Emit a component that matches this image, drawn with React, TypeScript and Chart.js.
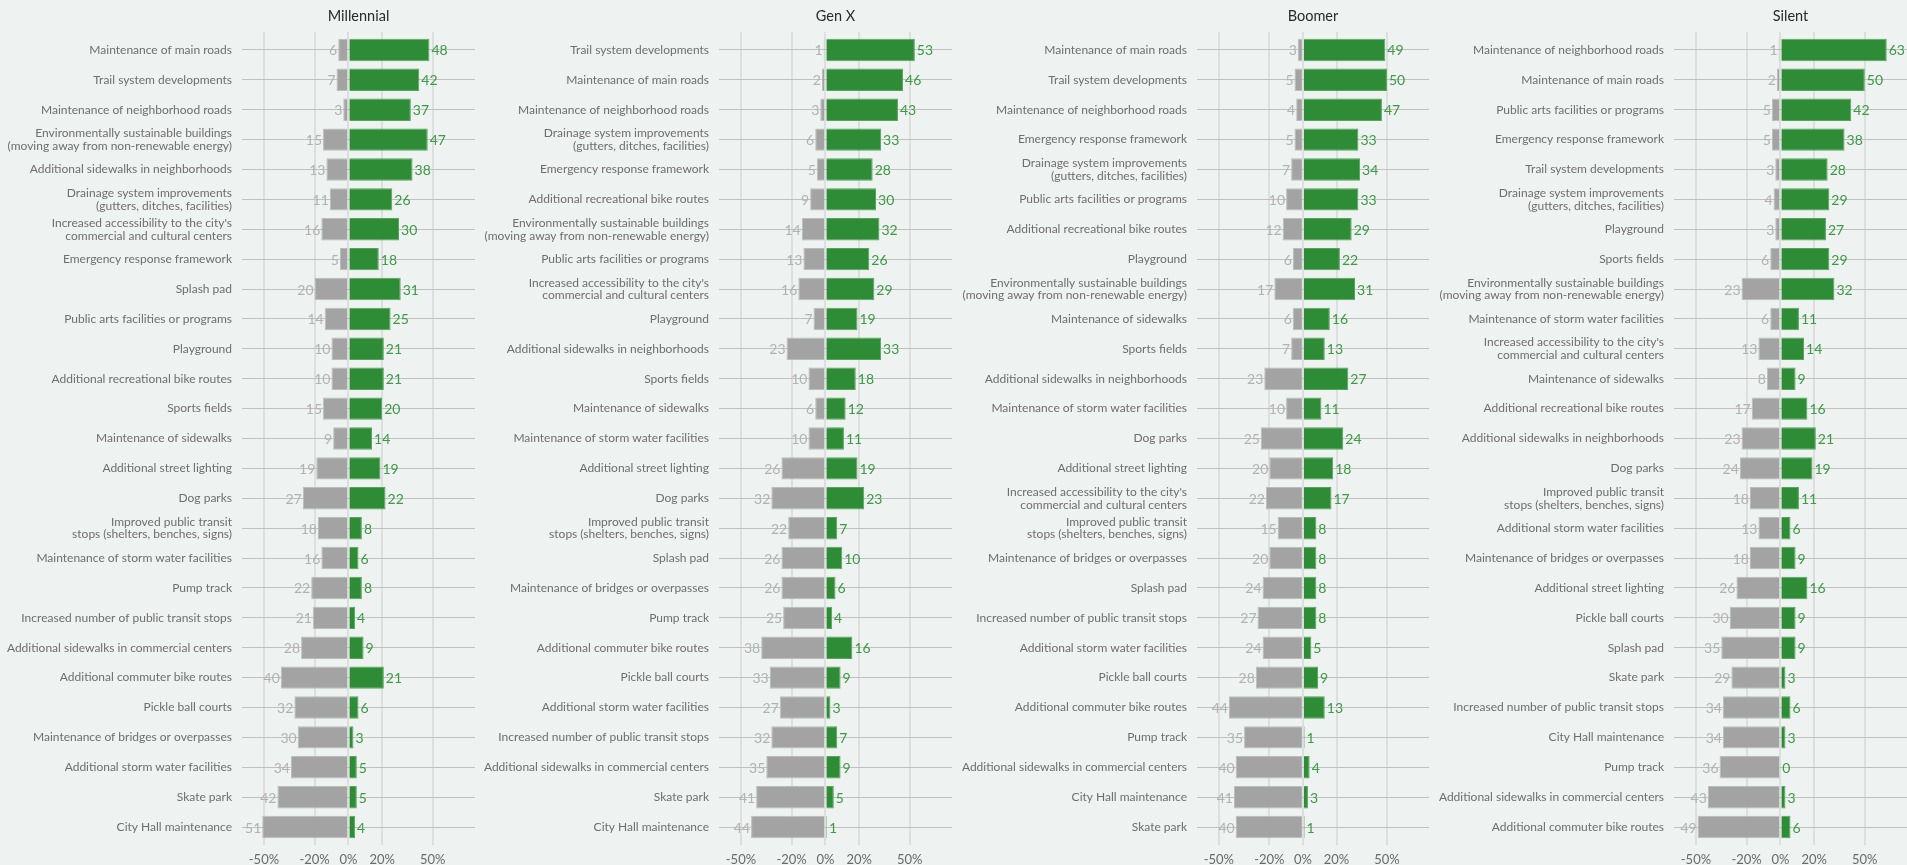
import React, { useEffect, useRef } from "react";
import { Chart, registerables } from "chart.js";

Chart.register(...registerables);

// ---------- DATA ----------
const ENV = "Environmentally sustainable buildings\n(moving away from non-renewable energy)";
const DRAIN = "Drainage system improvements\n(gutters, ditches, facilities)";
const ACCESS = "Increased accessibility to the city's\ncommercial and cultural centers";
const TRANSIT = "Improved public transit\nstops (shelters, benches, signs)";

const millennialCategories = [
  "Maintenance of main roads", "Trail system developments", "Maintenance of neighborhood roads", ENV,
  "Additional sidewalks in neighborhoods", DRAIN, ACCESS, "Emergency response framework", "Splash pad",
  "Public arts facilities or programs", "Playground", "Additional recreational bike routes", "Sports fields",
  "Maintenance of sidewalks", "Additional street lighting", "Dog parks", TRANSIT,
  "Maintenance of storm water facilities", "Pump track", "Increased number of public transit stops",
  "Additional sidewalks in commercial centers", "Additional commuter bike routes", "Pickle ball courts",
  "Maintenance of bridges or overpasses", "Additional storm water facilities", "Skate park", "City Hall maintenance",
];
const millennialOppose = [6, 7, 3, 15, 13, 11, 16, 5, 20, 14, 10, 10, 15, 9, 19, 27, 18, 16, 22, 21, 28, 40, 32, 30, 34, 42, 51];
const millennialSupport = [48, 42, 37, 47, 38, 26, 30, 18, 31, 25, 21, 21, 20, 14, 19, 22, 8, 6, 8, 4, 9, 21, 6, 3, 5, 5, 4];

const genXCategories = [
  "Trail system developments", "Maintenance of main roads", "Maintenance of neighborhood roads", DRAIN,
  "Emergency response framework", "Additional recreational bike routes", ENV, "Public arts facilities or programs",
  ACCESS, "Playground", "Additional sidewalks in neighborhoods", "Sports fields", "Maintenance of sidewalks",
  "Maintenance of storm water facilities", "Additional street lighting", "Dog parks", TRANSIT, "Splash pad",
  "Maintenance of bridges or overpasses", "Pump track", "Additional commuter bike routes", "Pickle ball courts",
  "Additional storm water facilities", "Increased number of public transit stops",
  "Additional sidewalks in commercial centers", "Skate park", "City Hall maintenance",
];
const genXOppose = [1, 2, 3, 6, 5, 9, 14, 13, 16, 7, 23, 10, 6, 10, 26, 32, 22, 26, 26, 25, 38, 33, 27, 32, 35, 41, 44];
const genXSupport = [53, 46, 43, 33, 28, 30, 32, 26, 29, 19, 33, 18, 12, 11, 19, 23, 7, 10, 6, 4, 16, 9, 3, 7, 9, 5, 1];

const boomerCategories = [
  "Maintenance of main roads", "Trail system developments", "Maintenance of neighborhood roads",
  "Emergency response framework", DRAIN, "Public arts facilities or programs", "Additional recreational bike routes",
  "Playground", ENV, "Maintenance of sidewalks", "Sports fields", "Additional sidewalks in neighborhoods",
  "Maintenance of storm water facilities", "Dog parks", "Additional street lighting", ACCESS, TRANSIT,
  "Maintenance of bridges or overpasses", "Splash pad", "Increased number of public transit stops",
  "Additional storm water facilities", "Pickle ball courts", "Additional commuter bike routes", "Pump track",
  "Additional sidewalks in commercial centers", "City Hall maintenance", "Skate park",
];
const boomerOppose = [3, 5, 4, 5, 7, 10, 12, 6, 17, 6, 7, 23, 10, 25, 20, 22, 15, 20, 24, 27, 24, 28, 44, 35, 40, 41, 40];
const boomerSupport = [49, 50, 47, 33, 34, 33, 29, 22, 31, 16, 13, 27, 11, 24, 18, 17, 8, 8, 8, 8, 5, 9, 13, 1, 4, 3, 1];

const silentCategories = [
  "Maintenance of neighborhood roads", "Maintenance of main roads", "Public arts facilities or programs",
  "Emergency response framework", "Trail system developments", DRAIN, "Playground", "Sports fields", ENV,
  "Maintenance of storm water facilities", ACCESS, "Maintenance of sidewalks", "Additional recreational bike routes",
  "Additional sidewalks in neighborhoods", "Dog parks", TRANSIT, "Additional storm water facilities",
  "Maintenance of bridges or overpasses", "Additional street lighting", "Pickle ball courts", "Splash pad",
  "Skate park", "Increased number of public transit stops", "City Hall maintenance", "Pump track",
  "Additional sidewalks in commercial centers", "Additional commuter bike routes",
];
const silentOppose = [1, 2, 5, 5, 3, 4, 3, 6, 23, 6, 13, 8, 17, 23, 24, 18, 13, 18, 26, 30, 35, 29, 34, 34, 36, 43, 49];
const silentSupport = [63, 50, 42, 38, 28, 29, 27, 29, 32, 11, 14, 9, 16, 21, 19, 11, 6, 9, 16, 9, 9, 3, 6, 3, 0, 3, 6];

const panelTitles = ["Millennial", "Gen X", "Boomer", "Silent"];
const xTickValues = [-50, -20, 0, 20, 50];

// ---------- STYLE ----------
const BG = "#eef2f0";
const GREEN = "#2e8b36";
const GREEN_BORDER = "#55a55b";
const GREY = "#a3a3a3";
const GREY_BORDER = "#bcbcbc";
const GREEN_TEXT = "#3d9a45";
const GREY_TEXT = "#b2b2b2";
const FONT = "Lato, 'Open Sans', sans-serif";

type PanelProps = {
  title: string;
  categories: string[];
  oppose: number[];
  support: number[];
  width: number;
  yAxisWidth: number;
  rightPad: number;
};

function Panel({ title, categories, oppose, support, width, yAxisWidth, rightPad }: PanelProps) {
  const ref = useRef<HTMLCanvasElement>(null);
  useEffect(() => {
    const labelPlugin = {
      id: "labels",
      afterDatasetsDraw(chart: any) {
        const ctx = chart.ctx;
        ctx.save();
        ctx.font = `14px ${FONT}`;
        ctx.textBaseline = "middle";
        chart.data.datasets.forEach((ds: any, di: number) => {
          const meta = chart.getDatasetMeta(di);
          meta.data.forEach((el: any, i: number) => {
            const v = Math.abs(ds.data[i].x);
            if (di === 0) {
              ctx.fillStyle = GREY_TEXT;
              ctx.textAlign = "right";
              ctx.fillText(String(v), el.x - 1, el.y + 1);
            } else {
              ctx.fillStyle = GREEN_TEXT;
              ctx.textAlign = "left";
              ctx.fillText(String(v), el.x + 2, el.y + 1);
            }
          });
        });
        ctx.restore();
      },
      afterDraw(chart: any) {
        const ctx = chart.ctx;
        const a = chart.chartArea;
        ctx.save();
        ctx.font = `14.5px ${FONT}`;
        ctx.fillStyle = "#2a2a2a";
        ctx.textAlign = "center";
        ctx.textBaseline = "middle";
        ctx.fillText(title, (a.left + a.right) / 2, 16);
        ctx.restore();
      },
    };

    const chart = new Chart(ref.current as HTMLCanvasElement, {
      type: "bar",
      data: {
        datasets: [
          {
            data: oppose.map((v, i) => ({ x: -v, y: i })),
            backgroundColor: GREY,
            borderColor: GREY_BORDER,
            borderWidth: 1,
            grouped: false,
            barPercentage: 0.75,
            categoryPercentage: 1,
          } as any,
          {
            data: support.map((v, i) => ({ x: v, y: i })),
            backgroundColor: GREEN,
            borderColor: GREEN_BORDER,
            borderWidth: 1,
            grouped: false,
            barPercentage: 0.75,
            categoryPercentage: 1,
          } as any,
        ],
      },
      options: {
        indexAxis: "y",
        responsive: false,
        animation: false,
        layout: { padding: { top: 32, right: rightPad, left: 0, bottom: 0 } },
        plugins: {
          legend: { display: false },
          tooltip: { enabled: false },
          title: { display: false },
        },
        scales: {
          x: {
            type: "linear",
            min: -63,
            max: 75,
            afterBuildTicks: (s: any) => {
              s.ticks = xTickValues.map((v) => ({ value: v }));
            },
            afterFit: (s: any) => {
              s.height = 20;
              s.paddingLeft = 0;
              s.paddingRight = 0;
              s.paddingTop = 0;
              s.paddingBottom = 0;
            },
            ticks: {
              autoSkip: false,
              maxRotation: 0,
              padding: 7,
              color: "#6a6a6a",
              font: { family: FONT, size: 13 },
              callback: (v: any) => `${v}%`,
            },
            grid: { color: "#dcdfdd", lineWidth: 2, drawTicks: false },
            border: { display: false },
          },
          y: {
            type: "linear",
            reverse: true,
            offset: false,
            min: -0.6,
            max: 26.6,
            afterBuildTicks: (s: any) => {
              s.ticks = categories.map((_, i) => ({ value: i }));
            },
            afterFit: (s: any) => {
              s.width = yAxisWidth;
              s.paddingTop = 0;
              s.paddingBottom = 0;
              s.paddingLeft = 0;
              s.paddingRight = 0;
            },
            ticks: {
              autoSkip: false,
              padding: 10,
              color: "#6e6e6e",
              font: { family: FONT, size: 12, lineHeight: 1.06 },
              callback: (v: any) => {
                const c = categories[Math.round(v)];
                return c ? c.split("\n") : "";
              },
            },
            grid: { color: "#c0c0c0", lineWidth: 1, drawTicks: false, offset: false },
            border: { display: false },
          },
        },
      } as any,
      plugins: [labelPlugin],
    });
    return () => chart.destroy();
  }, []);
  return <canvas ref={ref} width={width} height={865} style={{ display: "block", width, height: 865 }} />;
}

const panelWidths = [477, 477, 477, 476];
const yAxisWidths = [242, 242, 243, 243];
const rightPads = [2, 2, 2, 0];

export default function App() {
  const cats = [millennialCategories, genXCategories, boomerCategories, silentCategories];
  const opp = [millennialOppose, genXOppose, boomerOppose, silentOppose];
  const sup = [millennialSupport, genXSupport, boomerSupport, silentSupport];
  return (
    <div style={{ display: "flex", width: 1907, height: 865, background: BG, overflow: "hidden" }}>
      <style>{`body{margin:0;background:${BG};}`}</style>
      {panelTitles.map((t, i) => (
        <Panel
          key={t}
          title={t}
          categories={cats[i]}
          oppose={opp[i]}
          support={sup[i]}
          width={panelWidths[i]}
          yAxisWidth={yAxisWidths[i]}
          rightPad={rightPads[i]}
        />
      ))}
    </div>
  );
}
